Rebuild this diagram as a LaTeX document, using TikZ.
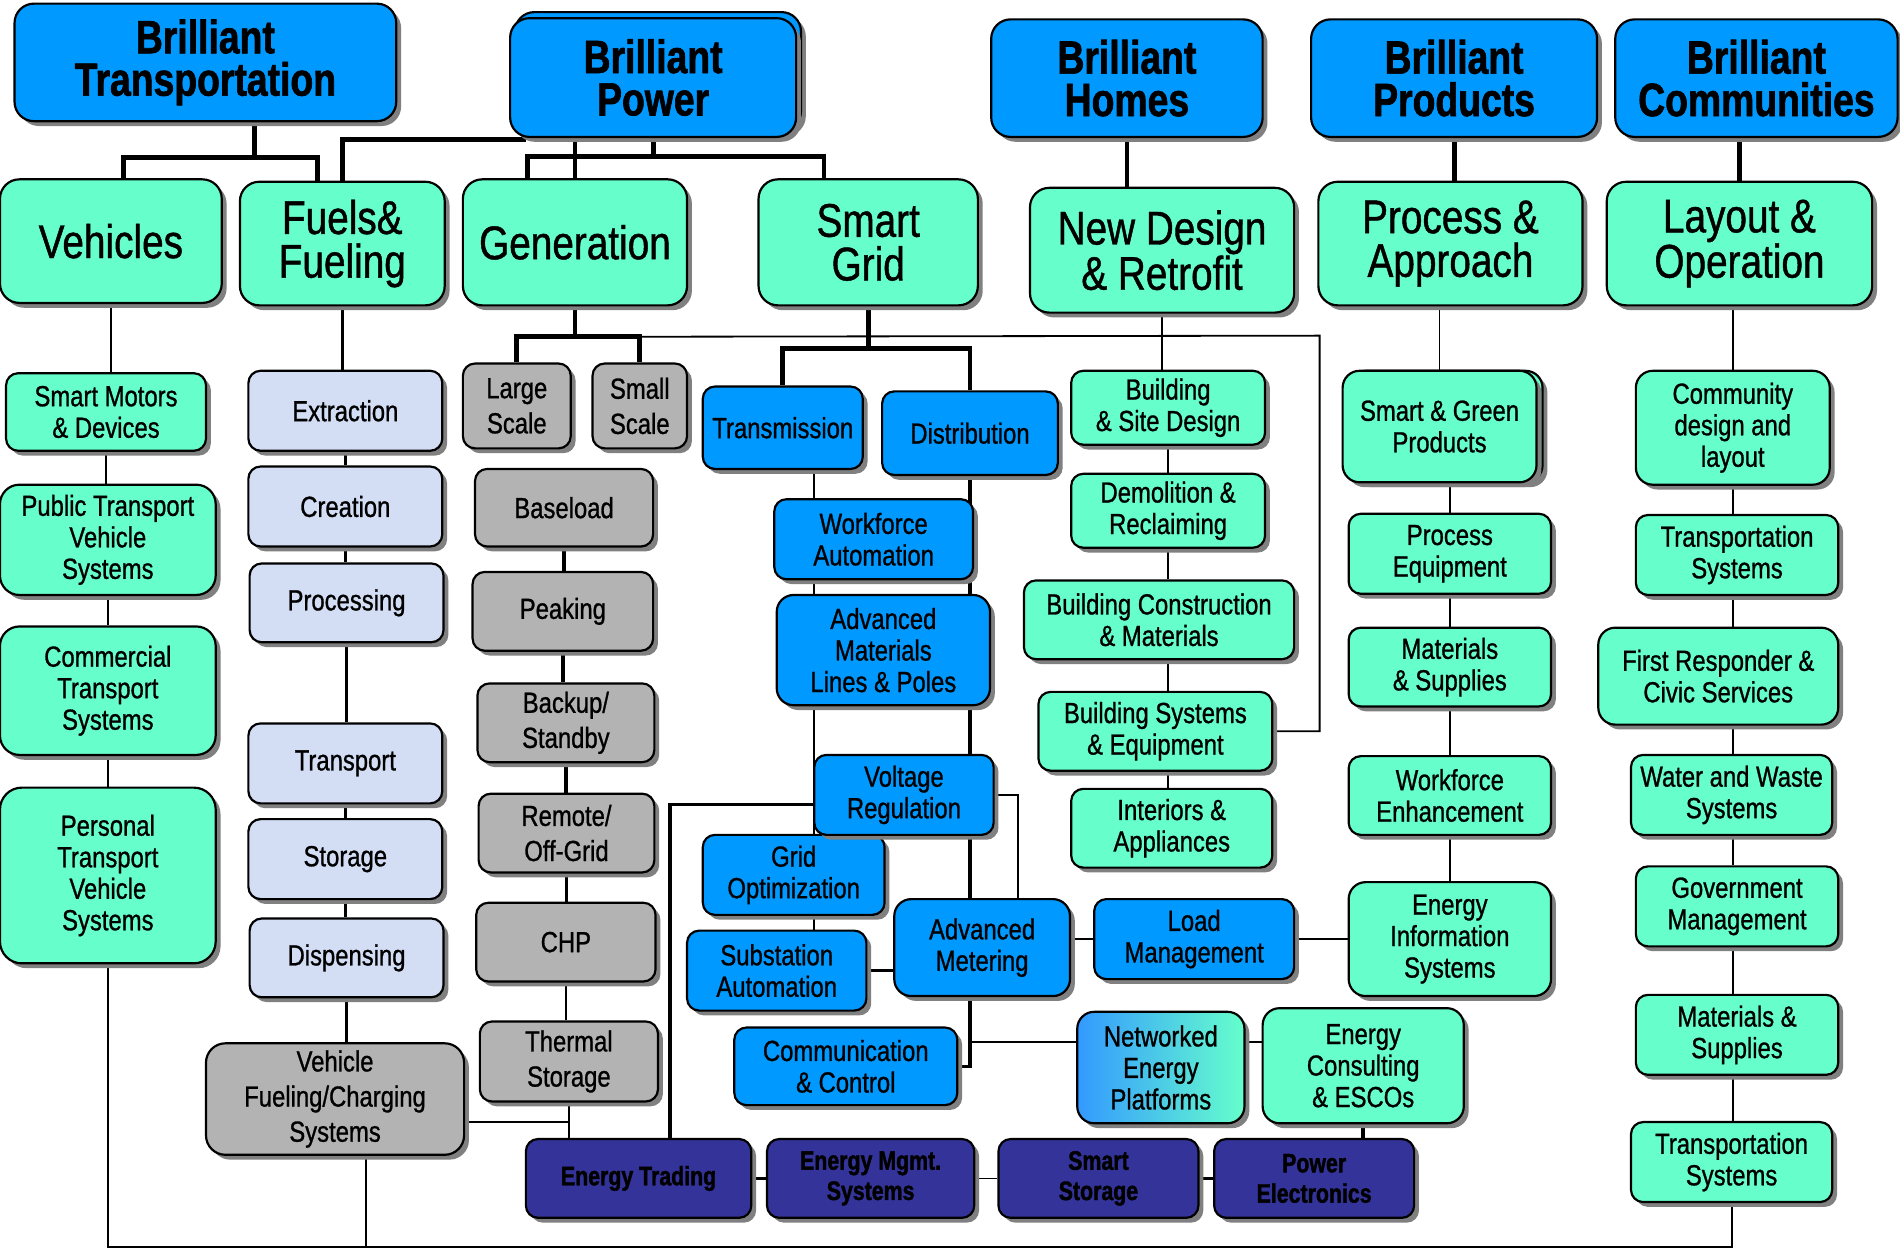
\documentclass[tikz,border=0pt]{standalone}
\usepackage{fontspec}
\setmainfont{Liberation Sans}[FakeStretch=0.82]
\newfontfamily\mfont{Liberation Sans}[FakeStretch=0.82,FakeBold=0.9]
\newfontfamily\hfont{Liberation Sans}[FakeStretch=0.8,FakeBold=1.4]
\usetikzlibrary{shadows,backgrounds,calc}
\definecolor{tblue}{HTML}{0099FF}
\definecolor{aqua}{HTML}{66FFCC}
\definecolor{lblue}{HTML}{D3DEF5}
\definecolor{gbox}{HTML}{B3B3B3}
\definecolor{navy}{HTML}{333399}
\definecolor{nblue}{HTML}{3399FF}
\newcommand\mybox[6]{\node[#1,minimum width=#4pt,minimum height=#5pt] (#2) at (#3) {#6};}
\begin{document}
\begin{tikzpicture}[x=1pt,y=-1pt,
  bxbase/.style={draw=black,line width=1.8pt,rounded corners=10pt,align=center,inner sep=0pt,
     drop shadow={shadow xshift=4pt,shadow yshift=-4pt,opacity=1,fill=black!50}},
  hbox/.style={bxbase,fill=tblue,rounded corners=16pt,font=\hfont\bfseries\fontsize{38.5}{35}\selectfont},
  sbox/.style={bxbase,fill=aqua,rounded corners=16pt,font=\mfont\fontsize{39}{36}\selectfont},
  aqbox/.style={bxbase,fill=aqua,font=\mfont\fontsize{24}{26}\selectfont},
  lbbox/.style={bxbase,fill=lblue,font=\mfont\fontsize{24}{26}\selectfont},
  grbox/.style={bxbase,fill=gbox,font=\mfont\fontsize{24}{29}\selectfont},
  blbox/.style={bxbase,fill=tblue,font=\mfont\fontsize{24}{26}\selectfont},
  nebox/.style={bxbase,left color=nblue,right color=aqua,rounded corners=14pt,font=\mfont\fontsize{24}{26}\selectfont},
  nvbox/.style={bxbase,fill=navy,font=\hfont\bfseries\fontsize{22}{25}\selectfont},
  bar/.style={line width=4pt},
  mid/.style={line width=3pt},
  thn/.style={line width=1.5pt}]
\useasboundingbox (0,0) rectangle (1568,1032);
% top row
\mybox{hbox}{T1}{169.5,51.5}{315}{97}{Brilliant\\Transportation}
\mybox{hbox}{T2b}{543,59}{236}{98}{}
\mybox{hbox}{T2}{539,64}{236}{98}{Brilliant\\Power}
\mybox{hbox}{T3}{930,64.5}{224}{97}{Brilliant\\Homes}
\mybox{hbox}{T4}{1200,64.5}{236}{97}{Brilliant\\Products}
\mybox{hbox}{T5}{1449.5,64.5}{233}{97}{Brilliant\\Communities}
% second row
\mybox{sbox}{Veh}{91.5,199}{183}{102}{Vehicles}
\mybox{sbox}{Fuel}{282.5,201}{169}{102}{Fuels\&\\Fueling}
\mybox{sbox}{Gen}{474.5,200}{185}{104}{Generation}
\mybox{sbox}{SG}{716.5,200}{181}{104}{Smart\\Grid}
\mybox{sbox}{ND}{959,206.5}{218}{103}{New Design\\\& Retrofit}
\mybox{sbox}{PA}{1197,201}{218}{102}{Process \&\\Approach}
\mybox{sbox}{LO}{1435.5,201}{219}{102}{Layout \&\\Operation}
% vehicles
\mybox{aqbox}{SM}{87.5,340}{165}{64}{Smart Motors\\\& Devices}
\mybox{aqbox,rounded corners=16pt}{PT}{89,445.5}{178}{91}{Public Transport\\Vehicle\\Systems}
\mybox{aqbox,rounded corners=16pt}{CT}{89,570}{178}{106}{Commercial\\Transport\\Systems}
\mybox{aqbox,rounded corners=18pt}{PV}{89,722.5}{178}{145}{Personal\\Transport\\Vehicle\\Systems}
% fuels
\mybox{lbbox}{Ex}{285,339}{160}{66}{Extraction}
\mybox{lbbox}{Cr}{285,418}{160}{66}{Creation}
\mybox{lbbox}{Pr}{286,497.5}{160}{65}{Processing}
\mybox{lbbox}{Tp}{285,630}{160}{66}{Transport}
\mybox{lbbox}{St}{285,709}{160}{66}{Storage}
\mybox{lbbox}{Di}{286,790.5}{160}{65}{Dispensing}
\mybox{grbox,rounded corners=16pt}{VF}{276.5,907}{213}{92}{Vehicle\\Fueling/Charging\\Systems}
% generation
\mybox{grbox}{LS}{426.5,335}{89}{70}{Large\\Scale}
\mybox{grbox}{SS}{528,335}{78}{70}{Small\\Scale}
\mybox{grbox}{BL}{465.5,419}{147}{64}{Baseload}
\mybox{grbox}{PK}{464.5,504.5}{149}{65}{Peaking}
\mybox{grbox}{BU}{467,596.5}{146}{65}{Backup/\\Standby}
\mybox{grbox}{RO}{467.5,687.5}{145}{65}{Remote/\\Off-Grid}
\mybox{grbox}{CHP}{467,777.5}{148}{65}{CHP}
\mybox{grbox}{TS}{469.5,876}{147}{66}{Thermal\\Storage}
% smart grid
\mybox{blbox}{TR}{646,353}{132}{68}{Transmission}
\mybox{blbox}{DI}{800.5,357.5}{145}{69}{Distribution}
\mybox{blbox}{WA}{721,445}{164}{66}{Workforce\\Automation}
\mybox{blbox,rounded corners=14pt}{AM}{729,536.5}{176}{91}{Advanced\\Materials\\Lines \& Poles}
\mybox{blbox}{GO}{655,722}{150}{66}{Grid\\Optimization}
\mybox{blbox}{VR}{746,656}{148}{66}{Voltage\\Regulation}
\mybox{blbox}{SA}{641,801}{148}{66}{Substation\\Automation}
\mybox{blbox,rounded corners=14pt}{AMe}{810.5,782}{145}{80}{Advanced\\Metering}
\mybox{blbox}{LM}{985.5,775}{165}{66}{Load\\Management}
\mybox{blbox}{CC}{698,880}{184}{64}{Communication\\\& Control}
\mybox{nebox}{NE}{958,881}{138}{92}{Networked\\Energy\\Platforms}
\mybox{aqbox,rounded corners=14pt}{EC}{1125,879.5}{166}{95}{Energy\\Consulting\\\& ESCOs}
% navy row
\mybox{nvbox}{ET}{527,972.5}{186}{65}{Energy Trading}
\mybox{nvbox}{EM}{718.5,972.5}{171}{65}{Energy Mgmt.\\Systems}
\mybox{nvbox}{SSt}{906.5,972.5}{165}{65}{Smart\\Storage}
\mybox{nvbox}{PE}{1084.5,972.5}{165}{65}{Power\\Electronics}
% homes
\mybox{aqbox}{BS}{964,336.5}{160}{61}{Building\\\& Site Design}
\mybox{aqbox}{DR}{964,421.5}{160}{61}{Demolition \&\\Reclaiming}
\mybox{aqbox}{BC}{956.5,511.5}{223}{65}{Building Construction\\\& Materials}
\mybox{aqbox}{BY}{953.5,603.5}{193}{65}{Building Systems\\\& Equipment}
\mybox{aqbox}{IA}{967,683.5}{166}{65}{Interiors \&\\Appliances}
% products
\mybox{aqbox,rounded corners=14pt}{SGPb}{1193,352}{160}{92}{}
\mybox{aqbox,rounded corners=14pt}{SGP}{1188,352}{160}{92}{Smart \& Green\\Products}
\mybox{aqbox}{PE2}{1196.5,457}{167}{66}{Process\\Equipment}
\mybox{aqbox}{MS}{1196.5,550.5}{167}{65}{Materials\\\& Supplies}
\mybox{aqbox}{WE}{1196.5,656.5}{167}{65}{Workforce\\Enhancement}
\mybox{aqbox,rounded corners=14pt}{EI}{1196.5,775}{167}{94}{Energy\\Information\\Systems}
% communities
\mybox{aqbox,rounded corners=14pt}{CD}{1430,353}{160}{94}{Community\\design and\\layout}
\mybox{aqbox}{TS1}{1433.5,458}{167}{66}{Transportation\\Systems}
\mybox{aqbox,rounded corners=14pt}{FR}{1418,558}{198}{80}{First Responder \&\\Civic Services}
\mybox{aqbox}{WW}{1429,656}{166}{66}{Water and Waste\\Systems}
\mybox{aqbox}{GM}{1433.5,748}{167}{66}{Government\\Management}
\mybox{aqbox}{MS2}{1433.5,854}{167}{66}{Materials \&\\Supplies}
\mybox{aqbox}{TS2}{1429,959}{166}{66}{Transportation\\Systems}

\begin{scope}[on background layer]
\fill[white] (0,0) rectangle (1568,1032);
% top level
\draw[bar] ([xshift=40.5pt]T1.south) -- ++(0,29) coordinate (jt);
\draw[bar] (jt) -| ([xshift=10.5pt]Veh.north);
\draw[bar] (jt) -| ([xshift=-20.5pt]Fuel.north);
\draw[bar] ([xshift=14pt,yshift=-1pt]T2.south west) -| (Fuel.north);
\draw[bar] (T2.south) -- ++(0,15) coordinate (jp);
\draw[bar] (jp) -| ([xshift=-39.5pt]Gen.north);
\draw[bar] (jp) -| ([xshift=-36.5pt]SG.north);
\draw[bar] (T2.south -| Gen.north) -- (Gen.north);
\draw[bar] (T3.south) -- (T3.south |- ND.north);
\draw[bar] (T4.south) -- (T4.south |- PA.north);
\draw[bar] (LO.north) -- (LO.north |- T5.south);
% vehicles
\draw[thn] (Veh.south) -- (Veh.south |- SM.north);
\draw[thn] (SM.south) -- (SM.south |- PT.north);
\draw[thn] (PT.south) -- (PT.south |- CT.north);
\draw[thn] (CT.south) -- (CT.south |- PV.north);
\coordinate (busB) at (0,1029);
\draw[thn] (PV.south) -- (PV.south |- busB) -| (TS2.south);
\draw[thn] ([xshift=25.5pt]VF.south) -- ([xshift=25.5pt]VF.south |- busB);
% fuels
\draw[mid] (Fuel.south) -- (Fuel.south |- Ex.north);
\foreach \a/\b in {Ex/Cr,Cr/Pr,Pr/Tp,Tp/St,St/Di,Di/VF} \draw[mid] (\a.south) -- (\a.south |- \b.north);
% generation
\draw[bar] (Gen.south) -- ++(0,25) coordinate (jg);
\draw[bar] (jg) -| (LS.north);
\draw[bar] (jg) -| (SS.north);
\coordinate (jh) at (1089,277);
\draw[thn] (jg -| SS.north) -- (jh) |- (BY.east);
\foreach \a/\b in {BL/PK,PK/BU,BU/RO,RO/CHP} \draw[mid] (\a.south) -- (\a.south |- \b.north);
\draw[thn] (CHP.south) -- (CHP.south |- TS.north);
\draw[thn] (TS.south) -- (TS.south |- ET.north);
\coordinate (vfe) at ([yshift=-19pt]VF.east);
\draw[thn] (vfe) -- (vfe -| TS.south);
% smart grid
\draw[bar] (SG.south) -- ++(0,35) coordinate (js);
\draw[bar] (js) -| (TR.north);
\draw[bar] (js) -| (DI.north);
\draw[thn] ([xshift=26pt]TR.south) -- ([xshift=26pt]TR.south |- SA.north);
\draw[mid] (DI.south) -- (DI.south |- AMe.north);
\draw[mid] (AMe.south -| DI.south) |- (CC.east);
\draw[thn] (VR.east) -| ([xshift=29.5pt]AMe.north);
\coordinate (vrw) at ([yshift=-8pt]VR.west);
\draw[mid] (vrw) -| ([xshift=26pt]ET.north);
\draw[mid] (SA.east) -- (SA.east -| AMe.west);
\draw[thn] (AMe.east |- LM.west) -- (LM.west);
\draw[thn] (LM.east) -- (LM.east -| EI.west);
\coordinate (nwj) at ([yshift=21pt]NE.west);
\draw[thn] (nwj -| DI.south) -- (nwj);
\coordinate (nej) at ([yshift=21pt]NE.east);
\draw[thn] (nej) -- (nej -| EC.west);
\draw[mid] (EC.south) -- (EC.south |- PE.north);
\draw[mid] (ET.east) -- (EM.west);
\draw[thn] (EM.east) -- (SSt.west);
\draw[mid] (SSt.east) -- (PE.west);
% homes
\draw[thn] (ND.south) -- (ND.south |- BS.north);
\draw[thn] (BS.south) -- (BS.south |- DR.north);
\draw[thn] (BS.south |- DR.south) -- (BS.south |- BC.north);
\draw[thn] (BS.south |- BC.south) -- (BS.south |- BY.north);
\draw[thn] (BS.south |- BY.south) -- (BS.south |- IA.north);
% products
\draw[thn] (SGP.north) -- (SGP.north |- PA.south);
\draw[thn] (PE2.north) -- (PE2.north |- SGP.south);
\foreach \a/\b in {PE2/MS,MS/WE,WE/EI} \draw[thn] (\a.south) -- (\a.south |- \b.north);
% communities
\draw[thn] (CD.north) -- (CD.north |- LO.south);
\foreach \a/\b in {CD/TS1,TS1/FR,FR/WW,WW/GM,GM/MS2,MS2/TS2} \draw[thn] (CD.south |- \a.south) -- (CD.south |- \b.north);
\end{scope}
\end{tikzpicture}
\end{document}
